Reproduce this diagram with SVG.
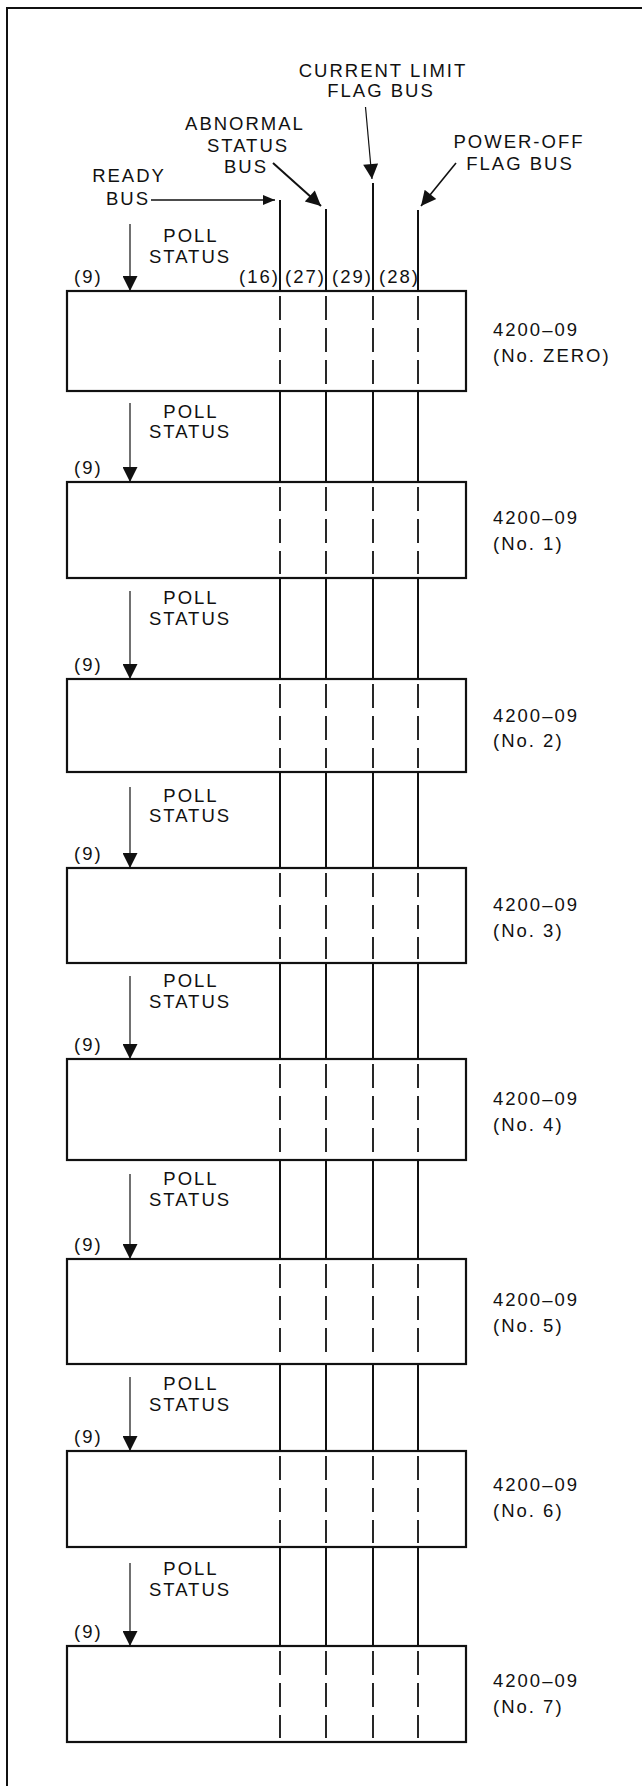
<svg xmlns="http://www.w3.org/2000/svg" width="642" height="1786" viewBox="0 0 642 1786">
<defs>
<style>
.t{font-family:"Liberation Sans",Arial,sans-serif;font-size:18.5px;letter-spacing:2px;fill:#111}
.m{text-anchor:middle}
.box{fill:#fff;stroke:#111;stroke-width:2.2}
.bus{stroke:#111;stroke-width:2;fill:none}
.dash{stroke:#111;stroke-width:1.8;stroke-dasharray:24 8;fill:none}
.poll{stroke:#111;stroke-width:1.2;fill:none;marker-end:url(#ah)}
.frame{stroke:#111;stroke-width:2;fill:none}
</style>
<marker id="ah" viewBox="0 0 16 16" markerWidth="17" markerHeight="15" refX="16" refY="8" orient="auto" markerUnits="userSpaceOnUse">
<path d="M0,0 L16,8 L0,16 z" fill="#111"/>
</marker>
<marker id="ahs" viewBox="0 0 12 10" markerWidth="12" markerHeight="10" refX="12" refY="5" orient="auto" markerUnits="userSpaceOnUse">
<path d="M0,0 L12,5 L0,10 z" fill="#111"/>
</marker>
</defs>
<rect width="642" height="1786" fill="#fff"/>
<path class="frame" d="M7,1786 V8 H642"/>

<g id="boxes">
<g id="box-0"><rect class="box" x="67" y="291" width="399" height="100"/><text class="t" x="493" y="336">4200–09</text><text class="t" x="493" y="362">(No. ZERO)</text></g>
<g id="box-1"><rect class="box" x="67" y="482" width="399" height="96"/><text class="t" x="493" y="524">4200–09</text><text class="t" x="493" y="550">(No. 1)</text></g>
<g id="box-2"><rect class="box" x="67" y="679" width="399" height="93"/><text class="t" x="493" y="722">4200–09</text><text class="t" x="493" y="747">(No. 2)</text></g>
<g id="box-3"><rect class="box" x="67" y="868" width="399" height="95"/><text class="t" x="493" y="911">4200–09</text><text class="t" x="493" y="937">(No. 3)</text></g>
<g id="box-4"><rect class="box" x="67" y="1059" width="399" height="101"/><text class="t" x="493" y="1105">4200–09</text><text class="t" x="493" y="1131">(No. 4)</text></g>
<g id="box-5"><rect class="box" x="67" y="1259" width="399" height="105"/><text class="t" x="493" y="1306">4200–09</text><text class="t" x="493" y="1332">(No. 5)</text></g>
<g id="box-6"><rect class="box" x="67" y="1451" width="399" height="96"/><text class="t" x="493" y="1491">4200–09</text><text class="t" x="493" y="1517">(No. 6)</text></g>
<g id="box-7"><rect class="box" x="67" y="1646" width="399" height="96"/><text class="t" x="493" y="1687">4200–09</text><text class="t" x="493" y="1713">(No. 7)</text></g>
</g>

<g id="bus-labels">
<text class="t m" x="383" y="77">CURRENT LIMIT</text>
<text class="t m" x="381" y="97">FLAG BUS</text>
<text class="t m" x="245" y="130">ABNORMAL</text>
<text class="t m" x="248" y="152">STATUS</text>
<text class="t m" x="246" y="173">BUS</text>
<text class="t m" x="519" y="148">POWER-OFF</text>
<text class="t m" x="520" y="170">FLAG BUS</text>
<text class="t m" x="129" y="182">READY</text>
<text class="t m" x="128" y="205">BUS</text>
<text class="t" x="239" y="283">(16)</text>
<text class="t" x="285" y="283">(27)</text>
<text class="t" x="332" y="283">(29)</text>
<text class="t" x="379" y="283">(28)</text>
</g>

<g id="poll-labels">
<text class="t" x="74" y="283">(9)</text>
<text class="t m" x="191" y="242">POLL</text><text class="t m" x="190" y="263">STATUS</text>
<text class="t" x="74" y="474">(9)</text>
<text class="t m" x="191" y="418">POLL</text><text class="t m" x="190" y="438">STATUS</text>
<text class="t" x="74" y="671">(9)</text>
<text class="t m" x="191" y="604">POLL</text><text class="t m" x="190" y="625">STATUS</text>
<text class="t" x="74" y="860">(9)</text>
<text class="t m" x="191" y="802">POLL</text><text class="t m" x="190" y="822">STATUS</text>
<text class="t" x="74" y="1051">(9)</text>
<text class="t m" x="191" y="987">POLL</text><text class="t m" x="190" y="1008">STATUS</text>
<text class="t" x="74" y="1251">(9)</text>
<text class="t m" x="191" y="1185">POLL</text><text class="t m" x="190" y="1206">STATUS</text>
<text class="t" x="74" y="1443">(9)</text>
<text class="t m" x="191" y="1390">POLL</text><text class="t m" x="190" y="1411">STATUS</text>
<text class="t" x="74" y="1638">(9)</text>
<text class="t m" x="191" y="1575">POLL</text><text class="t m" x="190" y="1596">STATUS</text>
</g>

<g id="connectors">
<!-- label arrows -->
<line x1="151" y1="200" x2="275" y2="200" stroke="#111" stroke-width="1.6" marker-end="url(#ahs)"/>
<line x1="273" y1="163" x2="321" y2="206" stroke="#111" stroke-width="2" marker-end="url(#ah)"/>
<line x1="365.5" y1="107" x2="372" y2="179" stroke="#111" stroke-width="1.2" marker-end="url(#ah)"/>
<line x1="456" y1="163" x2="421" y2="206" stroke="#111" stroke-width="1.6" marker-end="url(#ah)"/>
<!-- poll status arrows -->
<line class="poll" x1="130" y1="224" x2="130" y2="291"/>
<line class="poll" x1="130" y1="403" x2="130" y2="482"/>
<line class="poll" x1="130" y1="591" x2="130" y2="679"/>
<line class="poll" x1="130" y1="787" x2="130" y2="868"/>
<line class="poll" x1="130" y1="976" x2="130" y2="1059"/>
<line class="poll" x1="130" y1="1174" x2="130" y2="1259"/>
<line class="poll" x1="130" y1="1377" x2="130" y2="1451"/>
<line class="poll" x1="130" y1="1563" x2="130" y2="1646"/>
<!-- buses: solid segments -->
<path class="bus" d="M280,200 V291 M280,391 V482 M280,578 V679 M280,772 V868 M280,963 V1059 M280,1160 V1259 M280,1364 V1451 M280,1547 V1646"/>
<path class="bus" d="M326,209 V291 M326,391 V482 M326,578 V679 M326,772 V868 M326,963 V1059 M326,1160 V1259 M326,1364 V1451 M326,1547 V1646"/>
<path class="bus" d="M373,183 V291 M373,391 V482 M373,578 V679 M373,772 V868 M373,963 V1059 M373,1160 V1259 M373,1364 V1451 M373,1547 V1646"/>
<path class="bus" d="M418,210 V291 M418,391 V482 M418,578 V679 M418,772 V868 M418,963 V1059 M418,1160 V1259 M418,1364 V1451 M418,1547 V1646"/>
<!-- buses: dashed through boxes -->
<path class="dash" d="M280,296 V387 M280,487 V574 M280,684 V768 M280,873 V959 M280,1064 V1156 M280,1264 V1360 M280,1456 V1543 M280,1651 V1738"/>
<path class="dash" d="M326,296 V387 M326,487 V574 M326,684 V768 M326,873 V959 M326,1064 V1156 M326,1264 V1360 M326,1456 V1543 M326,1651 V1738"/>
<path class="dash" d="M373,296 V387 M373,487 V574 M373,684 V768 M373,873 V959 M373,1064 V1156 M373,1264 V1360 M373,1456 V1543 M373,1651 V1738"/>
<path class="dash" d="M418,296 V387 M418,487 V574 M418,684 V768 M418,873 V959 M418,1064 V1156 M418,1264 V1360 M418,1456 V1543 M418,1651 V1738"/>
</g>
</svg>
